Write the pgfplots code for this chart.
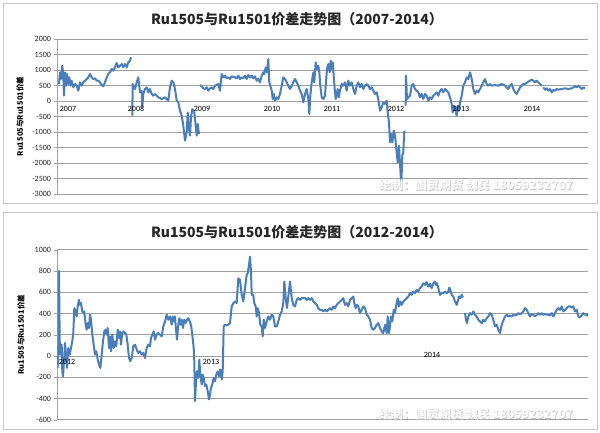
\documentclass[border=0pt]{standalone}
\usepackage{fontspec}
\setmainfont{Carlito}
\newfontfamily\cjk{Noto Sans CJK SC}
\usepackage{pgfplots}
\pgfplotsset{compat=1.18}
\definecolor{ser}{HTML}{4A7EBB}
\definecolor{gridc}{HTML}{A0A0A0}
\definecolor{framec}{HTML}{C8C8C8}
\pgfplotsset{
  excel/.style={
    scale only axis, anchor=south west,
    axis x line=none, axis y line=left,
    axis line style={draw=gridc,-},
    ymajorgrids, grid style={draw=gridc, line width=0.8pt},
    xtick=\empty,
    tick align=outside, major tick length=3pt,
    ytick style={draw=gridc},
    yticklabel style={font=\fontsize{8}{9}\selectfont, text=black!85},
    /pgf/number format/assume math mode=true,
    /pgf/number format/1000 sep={},
    xmin=57.5, xmax=588,
  },
  ser/.style={color=ser, line width=2pt, line join=round},
}
\newcommand{\wm}[1]{%
  \node[font=\cjk\bfseries\fontsize{12}{14}\selectfont, text=gray!45] at ($#1+(0.7,-0.7)$) {绘制：国贸期货 魏民 18059232707};
  \node[font=\cjk\bfseries\fontsize{12}{14}\selectfont, text=white] at #1 {绘制：国贸期货 魏民 18059232707};}
\usetikzlibrary{calc}
\begin{document}
\begin{tikzpicture}[x=1pt,y=1pt]
\useasboundingbox (0,0) rectangle (600,432);
\fill[white] (0,0) rectangle (600,432);
\draw[framec, line width=0.8pt] (3,229) rectangle (597,429);
\draw[framec, line width=0.8pt] (3,3) rectangle (597,220);

\node[font=\cjk\bfseries\fontsize{14}{16}\selectfont, text=black!85] at (297,413) {Ru1505与Ru1501价差走势图（2007-2014）};
\node[font=\cjk\bfseries\fontsize{14}{16}\selectfont, text=black!85] at (297,200) {Ru1505与Ru1501价差走势图（2012-2014）};
\node[rotate=90, font=\cjk\bfseries\fontsize{7.5}{9}\selectfont] at (20,315.5) {Ru1505与Ru1501价差};
\node[rotate=90, font=\cjk\bfseries\fontsize{7.5}{9}\selectfont] at (21,97.3) {Ru1505与Ru1501价差};

\begin{axis}[excel, at={(57.5pt,238pt)}, width=530.5pt, height=155pt,
  ymin=-3000, ymax=2000, ytick={-3000,-2500,...,2000}]
\addplot[ser] table {
59 550
60 925
61 710
62.3 1140
63.3 817
64 172
65 925
66 495
67 871
68.3 548
69.3 763
70.7 495
71.7 656
73.3 441
75 548
76.7 495
78.3 333
80 602
81.7 495
83.3 602
85 656
86.7 710
88.3 763
90 871
91.7 763
93.3 710
95 731
96.7 656
98.3 656
100 602
101.7 516
103.3 473
105 602
106.7 763
108.3 871
110 925
111.7 1032
113.3 978
115 1086
116.7 1226
118.3 1086
120 1140
121.7 1193
123.3 1086
125 1193
126.7 1086
128.3 1247
130 1301
131 1408
};
\addplot[ser] table {
132.3 -473
132.7 548
135 387
136.7 602
138.3 763
140 280
141.7 333
142.3 -204
143.3 226
145 387
146.7 441
148.3 280
150 387
151.7 226
153.3 172
155 226
156.7 172
158.3 118
161.7 65
165 118
168.3 11
170 441
171.7 656
173.3 602
175 387
176.7 11
178.3 -43
180 -312
181.7 -473
183.3 -796
185 -1279
186.7 -1011
187.7 -366
189 -903
190 -1118
191 -527
192.3 -258
194.3 -366
195.7 -796
196.7 -1118
197.7 -742
199 -1064
};
\addplot[ser] table {
200 516
201.7 473
203.3 409
205 387
206.7 441
208.3 333
210 409
211.7 441
213.3 387
215 495
216.7 516
218.3 548
220 333
221.7 871
223.3 763
225 817
226.7 731
228.3 763
230 710
231.7 796
235.0 763
236.7 731
238.3 817
240.0 710
241.7 763
243.3 731
245.0 817
246.7 710
248.3 839
250.0 763
251.7 817
253.3 731
255.0 796
256.7 656
258.3 710
260.0 602
261.7 817
263.3 925
264.3 871
265.7 1086
267.0 925
268.3 1355
269.3 602
270.3 495
271.7 333
272.7 65
273.7 226
275.0 11
276.7 118
278.3 65
280.0 226
281.7 495
283.3 763
285.0 710
286.7 602
288.3 495
290.0 387
291.7 495
293.3 602
295.0 710
296.7 602
298.3 495
300.0 333
301.7 226
303.3 -43
305.0 226
306.7 387
308.3 65
309.3 -419
310.3 172
311.7 602
313.3 925
314.3 602
315.7 1247
317.0 1032
318.3 1140
319.3 925
320.3 495
321.7 118
323.3 65
325.0 172
326.0 602
327.0 1032
328.3 1193
329.7 925
330.7 1301
331.7 1032
332.7 1247
333.7 817
334.7 387
335.7 65
336.7 226
337.7 387
338.7 118
340.0 333
341.7 548
343.3 495
345.0 602
346.7 333
348.3 656
350.0 495
351.7 602
353.3 387
355.0 226
356.7 495
358.3 602
360.0 441
361.7 548
363.3 387
365.0 495
366.7 548
368.3 495
370.0 387
371.7 441
373.3 333
375.0 226
376.7 280
378.3 65
380.0 -312
381.7 -204
383.3 -43
385.0 -97
386.7 11
387.7 -366
389.0 -688
390.0 -1333
391.0 -1064
392.3 -1333
393.7 -957
395.0 -1118
396.3 -1548
397.7 -1978
399.0 -1441
400.3 -2193
401.3 -2731
402.3 -1763
403.3 -1656
404.3 -957
};
\addplot[ser] table {
405.7 -150
406.0 817
407.0 65
408.3 118
410.0 172
411.7 495
413.3 548
415.0 387
418.3 280
420.0 118
421.7 226
423.3 65
425.0 226
426.7 172
428.3 11
430.0 118
431.7 65
433.3 172
435.0 226
436.7 280
438.3 172
440.0 333
441.7 387
443.3 280
445.0 387
446.7 333
448.3 280
450.0 118
451.7 -97
452.7 -366
453.7 -150
455.0 -204
456.7 -473
457.7 -150
459.0 -312
460.0 -43
461.7 172
463.3 495
465.0 602
466.7 763
468.3 710
470.0 925
471.0 817
472.3 602
473.3 387
475.0 226
476.7 333
478.3 280
480.0 387
481.7 495
483.3 602
485.0 710
486.7 548
488.3 495
490.0 548
491.7 495
495.0 516
498.3 495
501.7 548
505.0 495
506.7 441
508.3 387
510.0 495
511.7 548
513.3 387
515.0 280
516.7 226
518.3 333
520.0 441
521.7 495
523.3 548
525.0 548
528.3 624
531.7 688
533.3 656
535.0 602
536.7 656
538.3 602
540.0 548
541.7 495
};
\addplot[ser] table {
543.3 441
545.0 366
546.7 409
548.3 333
550.0 387
551.7 280
553.3 355
555.0 333
556.7 387
558.3 366
561.7 387
565.0 409
568.3 387
571.7 409
575.0 473
576.7 441
578.3 495
580.0 441
581.7 387
583.3 441
585.0 409
};
\begin{scope}[font=\fontsize{8}{9}\selectfont]
\node at (axis cs:68,-258) {2007};
\node at (axis cs:136,-258) {2008};
\node at (axis cs:202,-258) {2009};
\node at (axis cs:272,-258) {2010};
\node at (axis cs:332,-258) {2011};
\node at (axis cs:396,-258) {2012};
\node at (axis cs:461,-258) {2013};
\node at (axis cs:532,-258) {2014};
\end{scope}
\end{axis}

\begin{axis}[excel, at={(57.5pt,12.3pt)}, width=530.5pt, height=170pt,
  ymin=-600, ymax=1000, ytick={-600,-400,...,1000}]
\addplot[ser] table {
57.6 -113
58.2 -19
58.6 138
59.0 800
59.7 138
60.7 13
61.7 106
62.3 -144
63.0 -191
64.0 -50
65.0 122
66.0 13
67.0 -113
68.3 75
69.7 13
71.0 75
72.3 138
73.3 216
74.3 450
75.7 419
76.7 372
77.7 466
79.0 528
80.0 481
81.0 497
82.3 419
83.3 403
84.3 419
85.7 294
86.7 247
87.7 309
89.0 263
90.0 388
91.0 341
92.3 200
93.7 106
95.0 13
96.3 44
97.7 -34
99.0 -81
100.3 -113
101.7 13
103.0 138
104.3 231
105.7 247
106.7 200
107.7 263
109.0 75
110.0 184
111.0 44
112.3 200
113.7 75
115.0 138
116.3 91
117.7 247
119.0 169
120.0 231
121.0 106
122.3 216
123.7 231
125.0 216
126.3 200
127.7 106
129.0 -19
130.3 -50
131.7 -19
133.3 91
135.0 106
136.7 59
138.3 28
140.0 44
141.7 13
143.3 28
145.0 -19
146.7 75
148.3 106
150.0 91
151.0 169
152.3 200
153.7 231
155.0 153
156.7 200
158.3 216
160.0 200
161.7 184
163.3 278
165.0 325
166.7 388
168.3 341
170.0 372
171.7 294
172.7 372
174.0 325
175.0 372
176.0 247
177.0 153
178.3 294
179.3 356
180.7 294
181.7 341
183.0 263
184.3 341
185.7 309
187.0 341
188.3 356
189.7 325
191.0 294
192.3 200
193.7 75
194.3 -50
195.0 -425
196.0 -238
197.0 -144
198.3 -206
199.3 -34
200.3 -175
201.7 -269
202.7 -175
203.7 -206
205.0 -284
206.3 -269
207.7 -331
209.0 -409
210.0 -363
211.0 -300
212.3 -269
213.7 -206
215.0 -238
216.3 -175
217.7 -144
219.0 -191
220.3 -128
221.7 -222
222.7 -144
223.7 278
225.0 294
226.7 288
228.3 294
230.0 309
231.7 466
233.3 497
235.0 513
236.7 497
238.3 731
240.0 716
241.7 575
243.3 513
245.0 638
246.7 763
247.7 778
249.0 856
250.0 934
251.0 794
251.7 575
253.3 575
254.3 497
255.7 466
256.7 372
257.7 450
259.0 403
260.3 294
261.7 278
262.7 184
263.7 341
265.0 263
266.7 325
268.3 372
270.0 341
271.7 388
273.3 372
275.0 278
276.7 278
278.3 325
280.0 388
281.7 419
283.3 497
284.3 700
285.7 544
287.0 450
288.3 559
290.0 700
291.7 544
293.3 481
295.0 466
296.7 528
298.3 544
300.0 528
301.7 544
305.0 544
306.7 528
308.3 544
310.0 528
311.7 544
313.3 513
315.0 497
316.7 481
318.3 450
320.0 434
321.7 434
323.3 419
325.0 434
326.7 419
328.3 434
330.0 450
331.7 434
333.3 466
335.0 450
336.7 481
338.3 497
340.0 513
341.7 528
343.3 544
345.0 481
346.7 497
348.3 466
350.0 528
351.7 544
353.3 559
354.3 497
355.7 450
356.7 481
358.3 466
360.0 403
361.7 434
363.3 466
365.0 450
366.7 388
368.3 372
370.0 341
371.7 263
373.3 247
375.0 263
376.7 294
378.3 309
380.0 263
381.7 231
383.3 216
385.0 294
386.7 216
387.7 372
389.0 216
390.0 278
391.0 372
392.3 325
393.7 434
395.0 403
396.3 481
397.7 544
399.0 466
400.3 513
401.7 481
403.3 513
405.0 528
406.7 544
408.3 559
410.0 591
411.7 575
413.3 606
415.0 591
416.7 622
418.3 606
420.0 638
421.7 653
423.3 684
425.0 669
426.7 694
428.3 653
430.0 678
431.7 638
433.3 684
435.0 700
436.0 669
437.0 684
438.3 638
440.0 575
441.7 591
443.3 591
445.0 606
446.7 591
448.3 606
449.3 644
450.3 622
451.7 575
453.3 559
455.0 513
456.7 481
457.7 513
459.0 559
460.3 544
461.7 575
463.0 550
};
\addplot[ser] table {
465.0 403
466.0 341
467.0 309
468.3 372
470.0 403
471.7 388
473.3 419
475.0 388
476.7 372
478.3 341
480.0 325
481.7 309
483.3 341
485.0 325
486.7 356
488.3 372
490.0 403
491.7 388
493.3 341
495.0 278
496.7 294
498.3 247
500.0 216
501.0 263
502.3 309
503.7 341
505.0 372
506.7 388
508.3 372
510.0 381
511.7 372
513.3 388
515.0 381
516.7 388
518.3 403
520.0 394
521.7 403
523.3 419
525.0 450
526.7 434
528.3 403
530.0 372
531.7 394
533.3 388
535.0 372
536.7 388
538.3 403
540.0 388
541.7 403
543.3 388
545.0 394
546.7 388
548.3 388
550.0 381
551.7 403
553.3 372
555.0 403
556.7 434
558.3 450
560.0 434
561.7 466
563.3 419
565.0 434
566.7 450
568.3 466
570.0 466
571.7 456
573.3 466
575.0 419
576.7 434
578.3 372
580.0 363
581.7 381
583.3 403
585.0 388
586.7 394
587.7 372
};
\begin{scope}[font=\fontsize{8}{9}\selectfont]
\node at (axis cs:67,-55) {2012};
\node at (axis cs:211,-55) {2013};
\node at (axis cs:432,12) {2014};
\end{scope}
\end{axis}

\wm{(476,247)}
\wm{(476,18)}
\end{tikzpicture}
\end{document}
